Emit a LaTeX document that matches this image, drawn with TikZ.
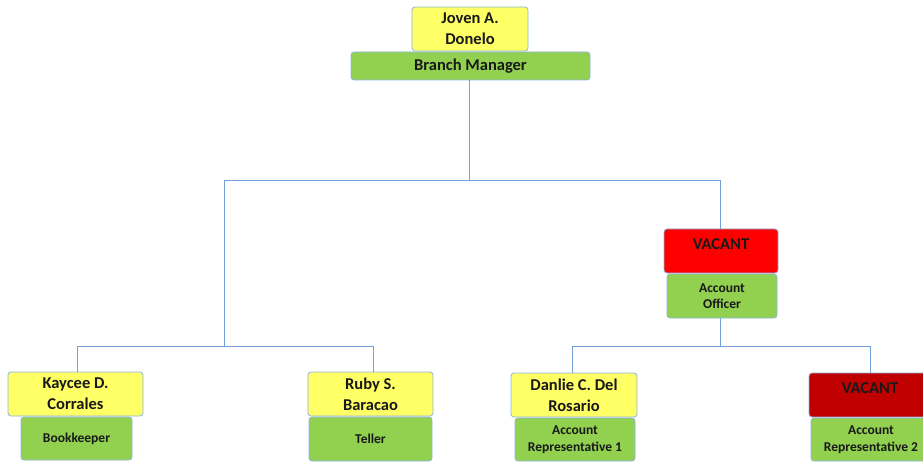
\documentclass[tikz,border=0pt]{standalone}
\usepackage{fontspec}
\setmainfont{Carlito}
\newcommand{\lift}[1]{\raisebox{7pt}[\height][\depth]{#1}}
\begin{document}
\begin{tikzpicture}[x=1pt,y=-1pt,
  box/.style={draw=boxedge, line width=0.8pt, rounded corners=3pt, align=center,
    inner sep=0pt, text=black!90},
  namebox/.style={box, fill=nameyellow, font=\bfseries\fontsize{16.5}{21}\selectfont},
  rolebox/.style={box, fill=rolegreen, font=\bfseries\fontsize{13.5}{16.5}\selectfont},
  vacant/.style={box, fill=vacred, font=\bfseries\fontsize{16.5}{21}\selectfont},
  conn/.style={draw=linkblue, line width=0.8pt}]
\definecolor{nameyellow}{HTML}{FFFF66}
\definecolor{rolegreen}{HTML}{92D050}
\definecolor{vacred}{HTML}{FF0000}
\definecolor{vacdark}{HTML}{C00000}
\definecolor{boxedge}{HTML}{8DB4E2}
\definecolor{linkblue}{HTML}{6FA0DC}
\useasboundingbox (0,0) rectangle (923,462);

% head of branch
\node[namebox, minimum width=116pt, minimum height=44pt] (joven) at (470,29) {Joven A.\\Donelo};
\node[rolebox, minimum width=239pt, minimum height=28pt, font=\bfseries\fontsize{16.5}{20}\selectfont] (bm) at (470.5,66) {Branch Manager};

% account officer (vacant)
\node[vacant, minimum width=114pt, minimum height=44pt] (vac1) at (721,251) {\lift{VACANT}};
\node[rolebox, minimum width=110pt, minimum height=44pt] (ao) at (722,296) {Account\\Officer};

% staff row
\node[namebox, minimum width=135pt, minimum height=44pt] (kaycee) at (75.5,394) {Kaycee D.\\Corrales};
\node[rolebox, minimum width=111pt, minimum height=43pt] (bk) at (76.5,438.5) {Bookkeeper};

\node[namebox, minimum width=125pt, minimum height=44pt] (ruby) at (370.5,394) {Ruby S.\\Baracao};
\node[rolebox, minimum width=123pt, minimum height=44pt] (teller) at (370.5,439) {Teller};

\node[namebox, minimum width=126pt, minimum height=44pt] (danlie) at (574,395) {Danlie C. Del\\Rosario};
\node[rolebox, minimum width=120pt, minimum height=43pt] (ar1) at (575,439.5) {Account\\Representative 1};

\node[vacant, fill=vacdark, minimum width=122pt, minimum height=44pt] (vac2) at (870,395) {\lift{VACANT}};
\node[rolebox, minimum width=120pt, minimum height=43pt] (ar2) at (871,439.5) {Account\\Representative 2};

% junctions
\coordinate (top) at (469,180);
\coordinate (jl) at (224,346);
\coordinate (jr) at (720,346);

\draw[conn] (bm.south -| top) -- (top);
\draw[conn] (top) -| (jl);
\draw[conn] (top) -| (vac1.north -| jr);
\draw[conn] (jl) -| ([xshift=1.5pt]kaycee.north);
\draw[conn] (jl) -| ([xshift=2.5pt]ruby.north);
\draw[conn] (ao.south -| jr) -- (jr);
\draw[conn] (jr) -| ([xshift=-2pt]danlie.north);
\draw[conn] (jr) -| (vac2.north);
\end{tikzpicture}
\end{document}
